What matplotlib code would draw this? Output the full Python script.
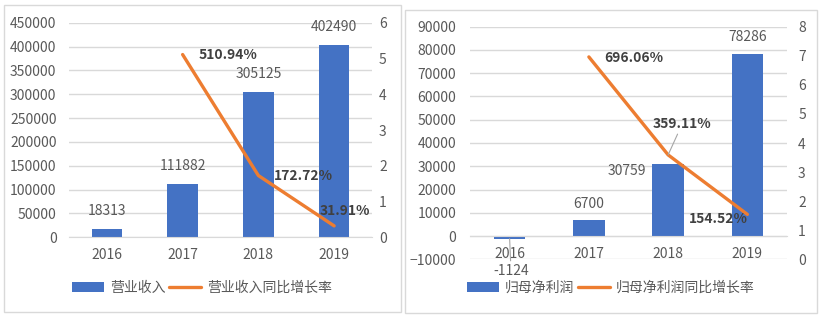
import numpy as np
import matplotlib
matplotlib.use("Agg")
import matplotlib.pyplot as plt
from matplotlib.patches import Rectangle

plt.rcParams["font.family"] = ["Noto Sans CJK SC", "DejaVu Sans"]
plt.rcParams["font.size"] = 10

# data
years = ["2016", "2017", "2018", "2019"]
revenue = [18313, 111882, 305125, 402490]
revenue_growth = [np.nan, 5.1094, 1.7272, 0.3191]
profit = [-1124, 6700, 30759, 78286]
profit_growth = [np.nan, 6.9606, 3.5911, 1.5452]

BLUE = "#4472C4"
ORANGE = "#ED7D31"
GRID = "#D9D9D9"
TXT = "#595959"
LBL = "#404040"

W, H = 826, 317
fig = plt.figure(figsize=(W / 100, H / 100), dpi=100)


def fx(px):
    return px / W


def fy(py):
    return 1 - py / H


# panel borders
for x0, y0, x1, y1 in [(4, 5, 401, 312), (405, 10, 817, 313)]:
    fig.add_artist(Rectangle((fx(x0), fy(y1)), fx(x1 - x0), (y1 - y0) / H,
                             transform=fig.transFigure, fill=False,
                             edgecolor=GRID, lw=1))


def style_axes(ax, ax2, lpad, rpad):
    for s in ["top", "left", "right"]:
        ax.spines[s].set_visible(False)
        ax2.spines[s].set_visible(False)
    ax2.spines["bottom"].set_visible(False)
    ax.spines["bottom"].set_color(GRID)
    ax.grid(axis="y", color=GRID, lw=1)
    ax.set_axisbelow(True)
    ax.tick_params(axis="y", length=0, pad=lpad, labelcolor=TXT, labelsize=10)
    ax.tick_params(axis="x", length=0, pad=8, labelcolor=TXT, labelsize=10)
    ax2.tick_params(axis="y", length=0, pad=rpad, labelcolor=TXT, labelsize=10)
    ax.set_xlim(-0.5, 3.5)


def pct(v):
    return f"{v * 100:.2f}%"


x = np.arange(len(years))

# ---- left: revenue
ax = fig.add_axes([fx(69), fy(237.3), fx(303), (237.3 - 22.7) / H])
ax2 = ax.twinx()
b1 = ax.bar(x, revenue, width=0.4, color=BLUE, label="营业收入")
l1, = ax2.plot(x, revenue_growth, color=ORANGE, lw=2.4, label="营业收入同比增长率",
               solid_capstyle="round")
ax.set_ylim(0, 450000)
ax.set_yticks(np.arange(0, 450001, 50000))
ax2.set_ylim(0, 6)
ax2.set_yticks(range(0, 7))
ax.set_xticks(x, years)
style_axes(ax, ax2, 9, 5)

for i, v in enumerate(revenue):
    ax.annotate(str(v), (i, v), xytext=(0, 13), textcoords="offset points",
                ha="center", va="center", color=TXT, fontsize=10)
rev_off = {1: ((11.5, 0), "left"), 2: ((11, 0), "left"), 3: ((8, 11), "center")}
for i, (off, ha) in rev_off.items():
    ax2.annotate(pct(revenue_growth[i]), (i, revenue_growth[i]), xytext=off,
                 textcoords="offset points", ha=ha, va="center",
                 color=LBL, fontsize=10, fontweight="bold")

fig.legend([b1, l1], ["营业收入", "营业收入同比增长率"], loc="center",
           bbox_to_anchor=(fx(202), fy(288)), ncol=2, frameon=False,
           handlelength=2.3, handletextpad=0.4, columnspacing=0.3,
           labelcolor=TXT, fontsize=10)

# ---- right: net profit
bx = fig.add_axes([fx(470), fy(259.3), fx(317), (259.3 - 26.7) / H])
bx2 = bx.twinx()
b2 = bx.bar(x, profit, width=0.4, color=BLUE, label="归母净利润")
l2, = bx2.plot(x, profit_growth, color=ORANGE, lw=2.4, label="归母净利润同比增长率",
               solid_capstyle="round")
bx.set_ylim(-10000, 90000)
bx.set_yticks(np.arange(-10000, 90001, 10000))
bx2.set_ylim(0, 8)
bx2.set_yticks(range(0, 9))
bx.set_xticks(x, years)
style_axes(bx, bx2, 10, 8)
bx.spines["bottom"].set_position(("data", 0))

prof_off = {1: ((0, 12), "center"), 3: ((0, 12), "center"), 2: ((-16, -5), "right")}
for i, (off, ha) in prof_off.items():
    bx.annotate(str(profit[i]), (i, profit[i]), xytext=off,
                textcoords="offset points", ha=ha, va="center",
                color=TXT, fontsize=10)
bx.annotate(str(profit[0]), (0, profit[0]), xytext=(1, -23),
            textcoords="offset points", ha="center", va="center",
            color=TXT, fontsize=10,
            arrowprops=dict(arrowstyle="-", color="#A6A6A6", lw=0.8,
                            shrinkA=0, shrinkB=0))

bx2.annotate(pct(profit_growth[1]), (1, profit_growth[1]), xytext=(11, -1),
             textcoords="offset points", ha="left", va="center",
             color=LBL, fontsize=10, fontweight="bold")
bx2.annotate(pct(profit_growth[2]), (2, profit_growth[2]), xytext=(10, 22),
             textcoords="offset points", ha="center", va="center",
             color=LBL, fontsize=10, fontweight="bold",
             arrowprops=dict(arrowstyle="-", color="#A6A6A6", lw=0.8,
                             shrinkA=0, shrinkB=0))
bx2.annotate(pct(profit_growth[3]), (3, profit_growth[3]), xytext=(0, -3),
             textcoords="offset points", ha="right", va="center",
             color=LBL, fontsize=10, fontweight="bold")

fig.legend([b2, l2], ["归母净利润", "归母净利润同比增长率"], loc="center",
           bbox_to_anchor=(fx(611), fy(288)), ncol=2, frameon=False,
           handlelength=2.3, handletextpad=0.4, columnspacing=0.3,
           labelcolor=TXT, fontsize=10)

fig.savefig("out.png", dpi=100)
